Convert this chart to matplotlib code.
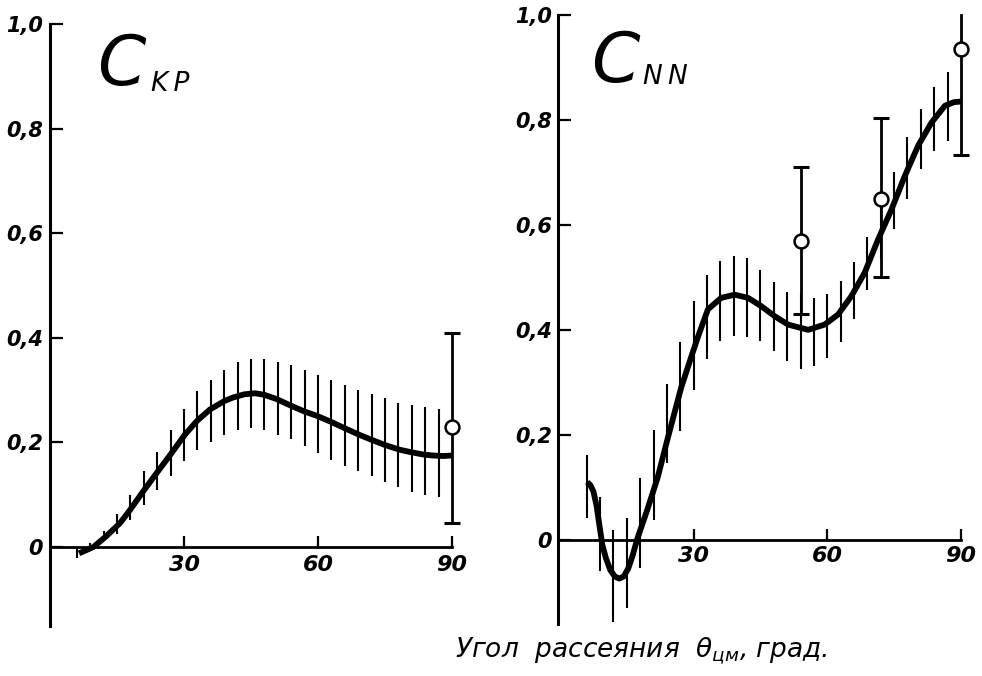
import matplotlib
matplotlib.use('Agg')
import matplotlib.pyplot as plt

plt.rcParams['font.family'] = ['DejaVu Sans']
plt.rcParams['mathtext.fontset'] = 'custom'
plt.rcParams['mathtext.rm'] = 'DejaVu Sans:italic'
plt.rcParams['mathtext.it'] = 'DejaVu Sans:italic'

# ---- C_KP (left panel) ----
kp_curve_x = [6.5, 9.7, 12.5, 15.7, 18.0, 20.9, 24.0, 26.9, 30.2, 33.0, 35.8, 39.0, 41.0,
              43.5, 45.9, 48.0, 50.7, 54.0, 57.0, 59.7, 63.0, 66.0, 69.4, 72.0, 75.0,
              78.3, 81.0, 83.5, 85.7, 88.0, 90.0]
kp_curve_y = [-0.012, 0.0, 0.02, 0.046, 0.072, 0.107, 0.143, 0.176, 0.215, 0.242, 0.263,
              0.279, 0.286, 0.292, 0.294, 0.291, 0.283, 0.27, 0.259, 0.251, 0.239, 0.227,
              0.214, 0.205, 0.195, 0.186, 0.181, 0.177, 0.175, 0.174, 0.175]
kp_bar_x = [6, 9, 12, 15, 18, 21, 24, 27, 30, 33, 36, 39, 42, 45, 48, 51, 54, 57, 60,
            63, 66, 69, 72, 75, 78, 81, 84, 87]
kp_bar_lo = [-0.02, -0.008, 0.011, 0.024, 0.052, 0.081, 0.110, 0.135, 0.165, 0.186, 0.201,
             0.215, 0.223, 0.227, 0.223, 0.215, 0.206, 0.193, 0.180, 0.167, 0.155, 0.145,
             0.136, 0.125, 0.115, 0.105, 0.099, 0.095]
kp_bar_hi = [0.0, 0.008, 0.031, 0.063, 0.100, 0.145, 0.182, 0.224, 0.264, 0.298, 0.320,
             0.339, 0.354, 0.359, 0.359, 0.354, 0.349, 0.338, 0.329, 0.319, 0.310, 0.300,
             0.292, 0.284, 0.276, 0.272, 0.267, 0.263]
kp_pt_x = [90]
kp_pt_y = [0.23]
kp_pt_lo = [0.046]
kp_pt_hi = [0.41]

# ---- C_NN (right panel) ----
nn_curve_x = [6.1, 6.8, 7.5, 8.2, 8.8, 9.5, 10.3, 11.3, 12.3, 13.3, 14.3, 15.3, 16.3,
              17.4, 19.7, 21.9, 24.2, 27.2, 29.4, 30.9, 33.2, 36.2, 39.2, 42.2, 45.2,
              48.2, 51.2, 55.7, 59.4, 62.4, 65.4, 68.4, 71.4, 74.4, 77.4, 80.4, 83.4,
              86.4, 88.5, 90.0]
nn_curve_y = [0.11, 0.104, 0.092, 0.065, 0.03, -0.01, -0.035, -0.058, -0.07, -0.074,
              -0.07, -0.055, -0.03, 0.003, 0.06, 0.118, 0.194, 0.29, 0.347, 0.385, 0.439,
              0.461, 0.467, 0.461, 0.445, 0.426, 0.41, 0.40, 0.41, 0.429, 0.464, 0.509,
              0.572, 0.629, 0.693, 0.751, 0.795, 0.827, 0.834, 0.835]
nn_bar_x = [6, 9, 12, 15, 18, 21, 24, 27, 30, 33, 36, 39, 42, 45, 48, 51, 54, 57, 60,
            63, 66, 69, 72, 75, 78, 81, 84, 87]
nn_bar_lo = [0.041, -0.060, -0.156, -0.130, -0.053, 0.038, 0.146, 0.208, 0.286, 0.344,
             0.378, 0.388, 0.387, 0.378, 0.359, 0.340, 0.325, 0.332, 0.346, 0.376, 0.420,
             0.476, 0.535, 0.592, 0.649, 0.706, 0.741, 0.760]
nn_bar_hi = [0.162, 0.081, 0.019, 0.041, 0.118, 0.210, 0.296, 0.376, 0.455, 0.504, 0.531,
             0.540, 0.536, 0.514, 0.491, 0.472, 0.470, 0.461, 0.469, 0.493, 0.529, 0.576,
             0.645, 0.700, 0.767, 0.820, 0.862, 0.892]
nn_pt_x = [54, 72, 90]
nn_pt_y = [0.57, 0.65, 0.935]
nn_pt_lo = [0.431, 0.501, 0.733]
nn_pt_hi = [0.711, 0.803, 1.0]

y_ticks = [0, 0.2, 0.4, 0.6, 0.8, 1.0]
y_labels = ['0', '0,2', '0,4', '0,6', '0,8', '1,0']
x_ticks = [30, 60, 90]
x_labels = ['30', '60', '90']

W, H = 982, 676
fig = plt.figure(figsize=(W / 100, H / 100), dpi=100)
ax1 = fig.add_axes([50 / W, 1 - 625.5 / H, 411 / W, 601.5 / H])
ax2 = fig.add_axes([557.8 / W, 1 - 623.7 / H, 412 / W, 608.7 / H])

tick_font = dict(family='DejaVu Sans', style='oblique', weight='bold', size=15)


def draw_panel(ax, ylo, xlo, cx, cy, bx, blo, bhi, px, py, plo, phi, lpad, bpad):
    ax.set_xlim(xlo, 92)
    ax.set_ylim(ylo, 1.0)
    for s in ['top', 'right']:
        ax.spines[s].set_visible(False)
    ax.spines['left'].set_linewidth(2.2)
    ax.spines['bottom'].set_linewidth(2.0)
    ax.spines['bottom'].set_position(('data', 0))
    ax.spines['bottom'].set_bounds(0, 90)
    ax.spines['left'].set_position(('data', xlo))

    ax.set_yticks(y_ticks)
    ax.set_yticklabels(y_labels, fontdict=tick_font)
    ax.set_xticks(x_ticks)
    ax.set_xticklabels(x_labels, fontdict=dict(tick_font, size=16))
    ax.tick_params(axis='y', direction='in', length=9, width=1.6, pad=lpad)
    ax.tick_params(axis='x', direction='in', length=8, width=1.6, pad=bpad)

    # error band hatching
    ax.vlines(bx, blo, bhi, colors='black', linewidth=1.5, zorder=2)
    # calculated curve
    ax.plot(cx, cy, color='black', linewidth=4.2, solid_capstyle='butt',
            solid_joinstyle='round', zorder=3, clip_on=False)
    # experimental points
    for x, y, lo, hi in zip(px, py, plo, phi):
        ax.plot([x, x], [lo, hi], color='black', linewidth=2.0, zorder=4, clip_on=False)
        ax.plot([x], [lo], marker='_', markersize=11, markeredgewidth=2.2, color='black',
                zorder=4, clip_on=False)
        if hi < 1.0:
            ax.plot([x], [hi], marker='_', markersize=11, markeredgewidth=2.2,
                    color='black', zorder=4, clip_on=False)
        ax.plot([x], [y], marker='o', markersize=10, markerfacecolor='white',
                markeredgecolor='black', markeredgewidth=1.8, zorder=5, clip_on=False)


draw_panel(ax1, -0.15, 0, kp_curve_x, kp_curve_y, kp_bar_x, kp_bar_lo, kp_bar_hi,
           kp_pt_x, kp_pt_y, kp_pt_lo, kp_pt_hi, 5, 6)
draw_panel(ax2, -0.16, -0.5, nn_curve_x, nn_curve_y, nn_bar_x, nn_bar_lo, nn_bar_hi,
           nn_pt_x, nn_pt_y, nn_pt_lo, nn_pt_hi, 4, 4.5)

# panel titles
fig.text(97 / W, 1 - 85 / H, 'C', fontsize=50, style='oblique', ha='left', va='baseline')
fig.text(151 / W, 1 - 91 / H, 'K\u2009P', fontsize=19, style='oblique', ha='left',
         va='baseline')
fig.text(591 / W, 1 - 82 / H, 'C', fontsize=50, style='oblique', ha='left', va='baseline')
fig.text(643 / W, 1 - 84 / H, 'N\u2009N', fontsize=19, style='oblique', ha='left',
         va='baseline')

# axis label
fig.text(455 / W, 1 - 657 / H, 'Угол  рассеяния  $\\theta_{цм}$, град.', fontsize=19,
         style='oblique', ha='left', va='baseline')

fig.savefig('out.png', dpi=100, facecolor='white')
